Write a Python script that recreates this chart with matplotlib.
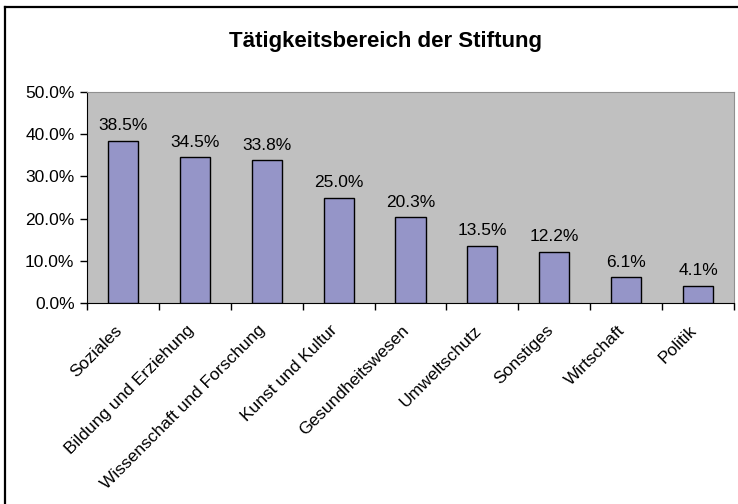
import matplotlib
matplotlib.use("Agg")
import matplotlib.pyplot as plt
from matplotlib.lines import Line2D
from matplotlib.ticker import MultipleLocator, FuncFormatter, FixedLocator
from matplotlib.transforms import ScaledTranslation

categories = ["Soziales", "Bildung und Erziehung", "Wissenschaft und Forschung",
              "Kunst und Kultur", "Gesundheitswesen", "Umweltschutz", "Sonstiges",
              "Wirtschaft", "Politik"]
values = [38.5, 34.5, 33.8, 25.0, 20.3, 13.5, 12.2, 6.1, 4.1]
title = "Tätigkeitsbereich der Stiftung"

plt.rcParams['font.family'] = ['Liberation Sans', 'DejaVu Sans']

W, H = 738, 504
fig = plt.figure(figsize=(W / 100, H / 100), dpi=100)
fig.patch.set_facecolor("white")
# outer frame: only top and left visible
fig.add_artist(Line2D([5 / W, 5 / W], [0, 1 - 7 / H], transform=fig.transFigure,
                      color="black", linewidth=1.6))
fig.add_artist(Line2D([5 / W, 1], [1 - 7 / H, 1 - 7 / H], transform=fig.transFigure,
                      color="black", linewidth=1.6))

left, right, top, bottom = 87, 734, 92, 303
ax = fig.add_axes([left / W, 1 - bottom / H, (right - left) / W, (bottom - top) / H])
ax.set_facecolor("#C0C0C0")

x = list(range(len(categories)))
ax.bar(x, values, width=0.42, color="#9595C8", edgecolor="black", linewidth=1.0, zorder=3)
for xi, v in zip(x, values):
    ax.text(xi, v + 1.8, f"{v:.1f}%", ha="center", va="bottom", fontsize=12.5)

ax.set_xlim(-0.5, len(categories) - 0.5)
ax.set_ylim(0, 50)
ax.yaxis.set_major_locator(MultipleLocator(10))
ax.yaxis.set_major_formatter(FuncFormatter(lambda v, p: f"{v:.1f}%"))
ax.tick_params(axis="y", labelsize=12.5, length=5, width=1, direction="out", pad=4)

ax.set_xticks(x)
ax.set_xticklabels(categories, rotation=45, ha="right", rotation_mode="anchor", fontsize=12.5)
ax.tick_params(axis="x", length=0, pad=14)
off = ScaledTranslation(-9 / 100, 0, fig.dpi_scale_trans)
for lbl in ax.get_xticklabels():
    lbl.set_transform(lbl.get_transform() + off)
ax.xaxis.set_minor_locator(FixedLocator([i - 0.5 for i in range(len(categories) + 1)]))
ax.tick_params(axis="x", which="minor", length=5, width=1, direction="out")

ax.spines["top"].set_color("#909090")
ax.spines["right"].set_color("#909090")
ax.spines["left"].set_color("black")
ax.spines["bottom"].set_color("black")

fig.text(386 / W, 1 - 42 / H, title, ha="center", va="center",
         fontsize=16, fontweight="bold")

fig.savefig("out.png", dpi=100)
